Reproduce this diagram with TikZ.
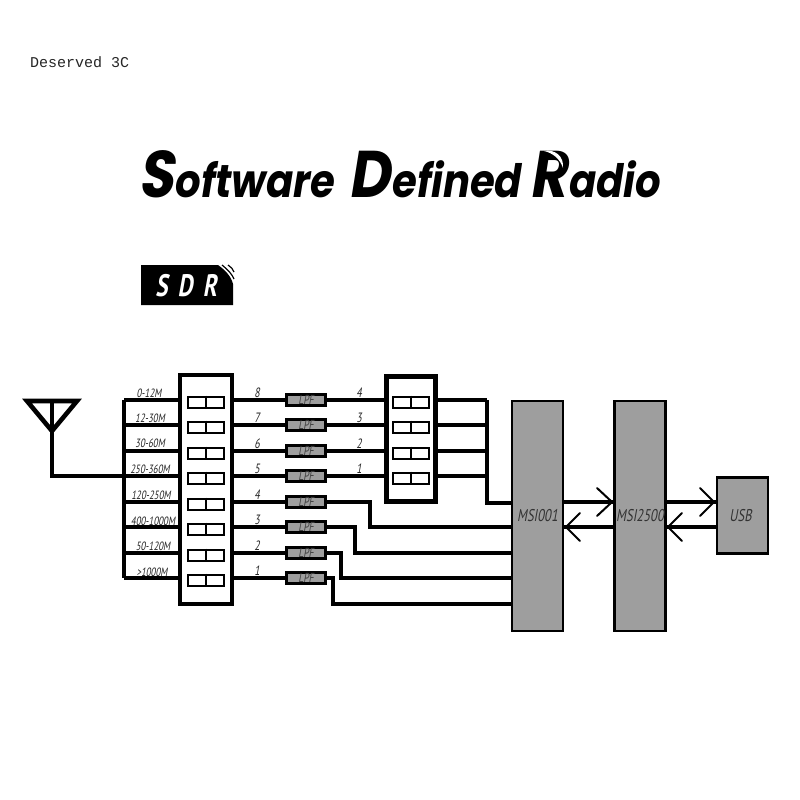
\documentclass[tikz,border=0pt]{standalone}
\usepackage{fontspec}
\setmainfont{PT Sans}
\newfontfamily\lab[FakeSlant=0.18,FakeStretch=0.74]{PT Sans}
\newfontfamily\ttl[FakeSlant=0.16,FakeStretch=0.87]{Poppins}[BoldFont={Poppins Bold}]
\newfontfamily\mono{Liberation Mono}
\definecolor{chip}{HTML}{9E9E9E}
\tikzset{
  wire/.style={line width=3.7pt,black},
  chevron/.style={line width=2pt,black,line cap=round},
  bigbox/.style={draw=black,line width=4.4pt,fill=white,inner sep=0pt,minimum width=#1},
  switchbox/.style={draw=black,line width=2.6pt,fill=white,inner sep=0pt,minimum width=36pt,minimum height=11pt},
  lpfbox/.style={draw=black,line width=2.6pt,fill=chip,inner sep=0pt,minimum width=39pt,minimum height=11pt,font=\lab\fontsize{13}{13}\selectfont,text=black!75},
  chipbox/.style={draw=black,line width=2.6pt,fill=chip,inner sep=0pt,minimum width=51pt,font=\lab\fontsize{17}{17}\selectfont,text=black!80},
  lab1/.style={font=\lab\fontsize{12}{12}\selectfont,text=black!85,inner sep=0pt},
  num/.style={font=\lab\fontsize{13.5}{13.5}\selectfont,text=black!85,inner sep=0pt},
}
\begin{document}
\begin{tikzpicture}[x=1pt,y=-1pt]
\useasboundingbox (0,0) rectangle (800,800);
\fill[white] (0,0) rectangle (800,800);
% header texts
\node[anchor=west,inner sep=0pt,font=\mono\fontsize{15}{15}\selectfont,text=black!85] (brand) at (30,62) {Deserved 3C};
\node[anchor=base west,inner sep=0pt] (title) at (138,197)
 {\ttl\bfseries\fontsize{46}{46}\selectfont{\fontsize{66}{66}\selectfont S}oftware\hspace{7pt} {\fontsize{66}{66}\selectfont D}efined\hspace{1pt} {\fontsize{66}{66}\selectfont R}adio};
% crescent in the R of the title
\fill[white] (544,151) .. controls (555,149) and (564,156) .. (563,168) .. controls (560,159) and (553,153) .. (544,151) -- cycle;
% SDR logo
\fill[black] (141,265) -- (218,265) .. controls (225,270) and (231,276) .. (233,284) -- (233,305) -- (141,305) -- cycle;
\draw[black,line width=1.2pt] (222,265) .. controls (228,270) and (232,274) .. (234,279);
\draw[black,line width=1.2pt] (228,265) .. controls (231,267) and (233,269) .. (234,272);
\node[inner sep=0pt,text=white,font=\lab\bfseries\fontsize{31}{31}\selectfont] (sdr) at (186,286) {S\,\,D\,\,R};
% boxes
\node[bigbox=52pt,minimum height=229pt] (left) at (206,489.5) {};
\node[bigbox=49pt,minimum height=125pt] (right) at (411,439) {};
\node[chipbox,minimum height=230pt] (msia) at (537.5,516) {MSI001};
\node[chipbox,minimum height=230pt] (msib) at (640,516) {MSI2500};
\node[chipbox,minimum height=76pt] (usb) at (742.5,515.5) {\hspace*{-4pt}USB};
% antenna
\coordinate (antL) at (27,401);
\coordinate (antR) at (77,401);
\coordinate (antT) at (52,401);
\coordinate (antA) at (52,431);
\draw[line width=4.6pt,line join=miter] (antL) -- (antR) -- (antA) -- cycle;
\coordinate (bus1) at (124,400);
\coordinate (bus8) at (124,578);
\draw[wire,line cap=square] (bus1) -- (bus8);
\coordinate (antJ) at (52,476);
\draw[wire] (antT) -- (antJ) -- (antJ -| left.west);
% rows
\foreach \n/\y/\a/\ax/\ay/\b in {
 1/400/0-12M/149/393/8,
 2/425/12-30M/150/418/7,
 3/451/30-60M/150/443/6,
 4/476/250-360M/150/469/5,
 5/502/120-250M/151/495/4,
 6/527/400-1000M/153/521/3,
 7/553/50-120M/153/546/2,
 8/578/>1000M/152/572/1}{
  \coordinate (r\n) at (124,\y);
  \draw[wire] (r\n) -- (r\n -| left.west);
  \node[switchbox] (sl\n) at (206,\y+2.3) {};
  \draw[wire,line width=2.8pt] (sl\n.north) -- (sl\n.south);
  \node[lpfbox] (lpf\n) at (306,\y) {LPF};
  \draw[wire] (lpf\n.west -| left.east) -- (lpf\n.west);
  \node[lab1] (bl\n) at (\ax,\ay) {\a};
  \node[num] (nl\n) at (257,\y-7.5) {\b};
}
\foreach \n/\y/\b in {1/400/4,2/425/3,3/451/2,4/476/1}{
  \node[switchbox] (sr\n) at (411,\y+2.3) {};
  \draw[wire,line width=2.8pt] (sr\n.north) -- (sr\n.south);
  \draw[wire] (lpf\n.east) -- (lpf\n.east -| right.west);
  \coordinate (o\n) at (487,\y);
  \draw[wire] (o\n -| right.east) -- (o\n);
  \node[num] (nr\n) at (359,\y-7.5) {\b};
}
\coordinate (oJ) at (487,503);
\draw[wire,line join=miter,line cap=square] (o1) -- (oJ) -- (oJ -| msia.west);
% LPF stair wires
\foreach \n/\x/\y in {5/370/527,6/355/553,7/341/578,8/333/604}{
  \coordinate (t\n) at (\x,\y);
  \draw[wire,line join=miter] (lpf\n.east) -- (lpf\n.east -| t\n) -- (t\n) -- (t\n -| msia.west);
}
% bus arrows
\coordinate (a1) at (563,502); \coordinate (b1) at (614,527);
\draw[wire] (msia.east |- a1) -- (msib.west |- a1);
\draw[chevron] (597,488) -- (612,502) -- (597,516);
\draw[wire] (msib.west |- b1) -- (msia.east |- b1);
\draw[chevron] (580,513) -- (566,527) -- (580,541);
\draw[wire] (msib.east |- a1) -- (usb.west |- a1);
\draw[chevron] (700,488) -- (714,502) -- (700,516);
\draw[wire] (usb.west |- b1) -- (msib.east |- b1);
\draw[chevron] (682,513) -- (668,527) -- (682,541);
\end{tikzpicture}
\end{document}
